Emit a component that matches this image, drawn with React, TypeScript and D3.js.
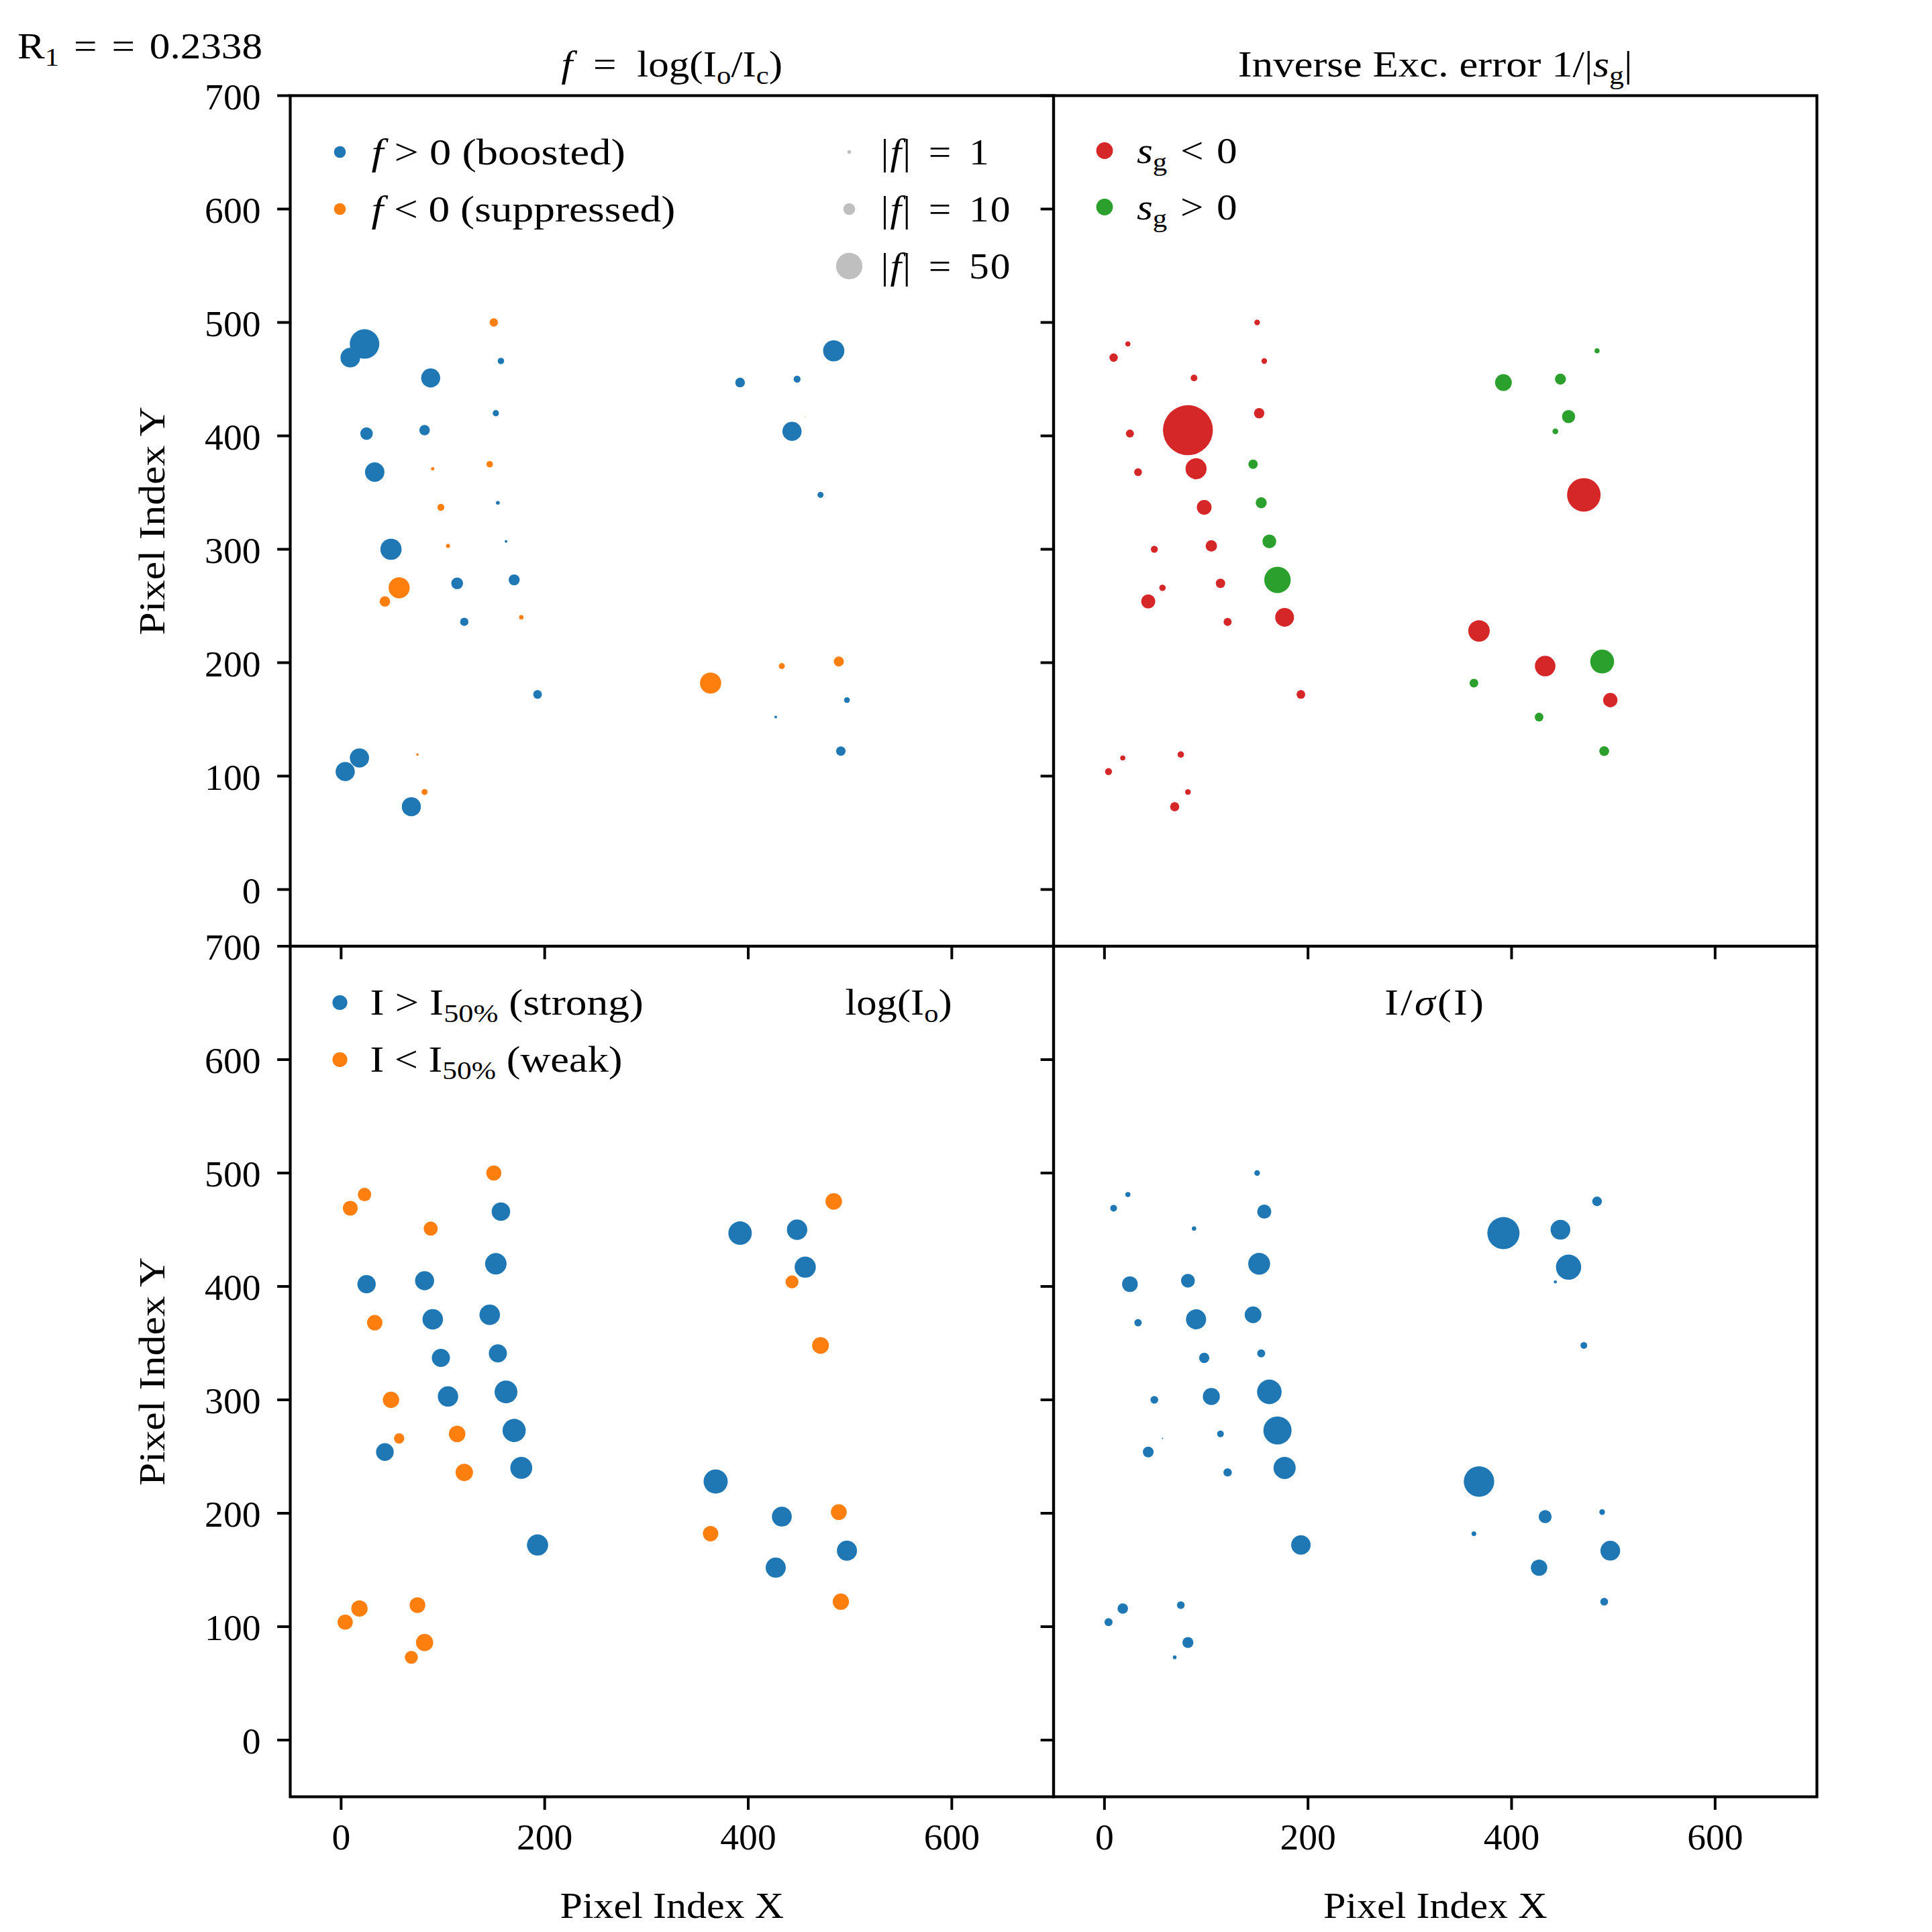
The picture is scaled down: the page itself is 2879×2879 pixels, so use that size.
import React, { useEffect } from 'react';
import * as d3 from 'd3';

// Reflection positions on the detector (pixel indices)
const pixelX = [150, 23, 9, 88, 157, 152, 25, 82, 33, 90, 146, 98, 154, 49, 105, 162, 57, 43, 114, 170, 121, 177, 193, 18, 4, 75, 82, 69, 484, 392, 448, 456, 443, 471, 368, 433, 489, 363, 497, 427, 491];
const pixelY = [500, 481, 469, 451, 466, 420, 402, 405, 368, 371, 375, 337, 341, 300, 303, 307, 266, 254, 270, 273, 236, 240, 172, 116, 104, 119, 86, 73, 475, 447, 450, 417, 404, 348, 228, 197, 201, 182, 167, 152, 122];

// f = log(Io/Ic) per reflection
const fValues = [-4.98, 62.7, 28.0, 26.1, 2.99, 2.86, 11.2, 7.88, 27.2, -0.81, -2.99, -3.5, 1.02, 32.3, -1.17, 0.52, -31.9, -7.88, 10.0, 8.71, 4.98, -1.41, 5.47, 26.5, 26.5, -0.42, -2.62, 26.1, 32.3, 6.72, 3.5, -0.05, 26.5, 2.62, 0, -2.62, -7.29, -32.3, 2.4, 0.52, 6.35];
// signed inverse excitation error 1/s_g
const invExcErr = [-2.29, -1.87, -5.14, -3.24, -2.29, -7.68, -4.66, -179.3, -4.36, -31.9, 6.35, -15.7, 8.71, -3.5, -9.36, 13.7, -2.99, -14.3, -6.35, 50.3, -4.66, -25.4, -5.47, -1.87, -3.5, -2.99, -2.29, -5.99, 1.87, 20.2, 8.71, 12.4, 2.4, -81.0, -33.2, -30.3, 41.1, 5.47, -14.8, 5.47, 6.91];
// observed intensity, natural log
const logIo = [4.06, 3.24, 3.92, 3.57, 6.17, 8.29, 6.08, 6.53, 4.28, 7.58, 7.58, 5.9, 5.9, 4.82, 7.48, 9.36, 1.92, 5.64, 4.9, 9.7, 5.47, 8.61, 8.09, 4.82, 4.14, 4.43, 5.31, 3.05, 4.9, 9.92, 7.48, 8.09, 3.05, 5.06, 10.5, 7.1, 4.51, 4.28, 7.29, 7.29, 4.82];
// signal to noise I/sigma(I)
const iOverSigma = [2.29, 1.87, 3.24, 1.41, 14.3, 34.4, 17.7, 13.7, 3.92, 29.2, 20.2, 7.68, 4.66, 4.36, 20.9, 43.4, 0.13, 8.29, 3.24, 57.1, 4.98, 35.3, 27.2, 7.88, 4.66, 4.21, 8.71, 1.02, 6.72, 74.6, 28.0, 45.8, 0.69, 3.24, 66.8, 12.2, 2.29, 1.59, 28.0, 19.3, 4.36];

const xTicks = [0, 200, 400, 600];
const yTicks = [0, 100, 200, 300, 400, 500, 600, 700];
const sizeLegendValues = [1, 10, 50];
const r1Value = '0.2338';

const FONT = '"Liberation Serif", "Times New Roman", serif';
const FS = 55.6;
const PX_PER_PT = 400 / 72;
const C = { blue: '#1f77b4', orange: '#ff7f0e', green: '#2ca02c', red: '#d62728', grey: '#bfbfbf' };

const SIZE = 2879;
const panelW = 1137.5;
const panelH = 1267.5;
const colX = [432.5, 1570];
const rowY = [142.5, 1410];
const SPINE = 4.2;
const TICK_LEN = 19.4;

// marker area (pt^2) -> radius in px
const radius = (s: number) => (Math.sqrt(Math.max(s, 0)) / 2) * PX_PER_PT;

type Seg = { t: string; it?: boolean; sub?: boolean };

// Text with italic / subscript runs; sx widens the glyph run horizontally
function Rich({
  x, y, segs, anchor = 'start', fs = FS, sx = 1, ws = 0, ls = 0, rotate = 0,
}: { x: number; y: number; segs: Seg[]; anchor?: string; fs?: number; sx?: number; ws?: number; ls?: number; rotate?: number }) {
  const shift = fs * 0.2;
  let cur = 0;
  const spans = segs.map((s, k) => {
    const target = s.sub ? shift : 0;
    const dy = target - cur;
    cur = target;
    return (
      <tspan key={k} dy={dy !== 0 ? dy : undefined} fontStyle={s.it ? 'italic' : 'normal'} fontSize={s.sub ? fs * 0.7 : fs}>
        {s.t}
      </tspan>
    );
  });
  return (
    <text
      x={0}
      y={0}
      textAnchor={anchor as any}
      fontFamily={FONT}
      fontSize={fs}
      fill="#000"
      wordSpacing={ws || undefined}
      letterSpacing={ls || undefined}
      style={{ whiteSpace: 'pre' }}
      transform={`translate(${x},${y}) rotate(${rotate}) scale(${sx},1)`}
    >
      {spans}
    </text>
  );
}

type Pt = { x: number; y: number; s: number; color: string };

function Panel({ col, row, points, xLabels, yLabels }: { col: number; row: number; points: Pt[]; xLabels: boolean; yLabels: boolean }) {
  const x0 = colX[col];
  const y0 = rowY[row];
  const xs = d3.scaleLinear().domain([-50, 700]).range([x0, x0 + panelW]);
  const ys = d3.scaleLinear().domain([-50, 700]).range([y0 + panelH, y0]);
  return (
    <g>
      {points.map((p, i) =>
        p.s > 0 ? <circle key={i} cx={xs(p.x)} cy={ys(p.y)} r={radius(p.s)} fill={p.color} /> : null
      )}
      {xTicks.map((t) => (
        <g key={'x' + t}>
          <line x1={xs(t)} x2={xs(t)} y1={y0 + panelH} y2={y0 + panelH + TICK_LEN} stroke="#000" strokeWidth={4} />
          {xLabels && (
            <text x={xs(t)} y={y0 + panelH + 78} textAnchor="middle" fontFamily={FONT} fontSize={FS}>
              {t}
            </text>
          )}
        </g>
      ))}
      {yTicks.map((t) => (
        <g key={'y' + t}>
          <line x1={x0 - TICK_LEN} x2={x0} y1={ys(t)} y2={ys(t)} stroke="#000" strokeWidth={4} />
          {yLabels && (
            <text x={x0 - 44} y={ys(t) + 20} textAnchor="end" fontFamily={FONT} fontSize={FS}>
              {t}
            </text>
          )}
        </g>
      ))}
      <rect x={x0} y={y0} width={panelW} height={panelH} fill="none" stroke="#000" strokeWidth={SPINE} />
    </g>
  );
}

export default function App() {
  useEffect(() => {
    document.body.style.margin = '0';
  }, []);

  const idx = d3.range(pixelX.length);
  const medianLogIo = d3.median(logIo) as number;

  const fPts: Pt[] = idx.map((i) => ({ x: pixelX[i], y: pixelY[i], s: Math.abs(fValues[i]), color: fValues[i] >= 0 ? C.blue : C.orange }));
  const sgPts: Pt[] = idx.map((i) => ({ x: pixelX[i], y: pixelY[i], s: Math.abs(invExcErr[i]), color: invExcErr[i] < 0 ? C.red : C.green }));
  const ioPts: Pt[] = idx.map((i) => ({ x: pixelX[i], y: pixelY[i], s: 4 * logIo[i], color: logIo[i] >= medianLogIo ? C.blue : C.orange }));
  const snPts: Pt[] = idx.map((i) => ({ x: pixelX[i], y: pixelY[i], s: iOverSigma[i], color: C.blue }));

  const legRow = (row: number, k: number) => rowY[row] + 84 + k * 85;
  const TXT_DY = 18;

  return (
    <svg width={SIZE} height={SIZE} viewBox={`0 0 ${SIZE} ${SIZE}`} style={{ position: 'absolute', left: 0, top: 0, background: '#fff' }}>
      <rect x={0} y={0} width={SIZE} height={SIZE} fill="#fff" />

      <Rich x={26} y={87} sx={1.1} ws={6} segs={[{ t: 'R' }, { t: '1', sub: true }, { t: ' = = ' + r1Value }]} />

      {/* titles */}
      <Rich x={colX[0] + panelW / 2} y={114} anchor="middle" sx={1.1} ws={14} segs={[{ t: 'f', it: true }, { t: ' = log(I' }, { t: 'o', sub: true }, { t: '/I' }, { t: 'c', sub: true }, { t: ')' }]} />
      <Rich x={colX[1] + panelW / 2} y={114} anchor="middle" sx={1.13} segs={[{ t: 'Inverse Exc. error 1/|' }, { t: 's', it: true }, { t: 'g', sub: true }, { t: '|' }]} />

      <Panel col={0} row={0} points={fPts} xLabels={false} yLabels={true} />
      <Panel col={1} row={0} points={sgPts} xLabels={false} yLabels={false} />
      <Panel col={0} row={1} points={ioPts} xLabels={true} yLabels={true} />
      <Panel col={1} row={1} points={snPts} xLabels={true} yLabels={false} />

      {/* f panel legends */}
      <circle cx={colX[0] + 74} cy={legRow(0, 0)} r={radius(10)} fill={C.blue} />
      <Rich x={colX[0] + 121} y={legRow(0, 0) + TXT_DY} sx={1.16} segs={[{ t: 'f', it: true }, { t: ' > 0 (boosted)' }]} />
      <circle cx={colX[0] + 74} cy={legRow(0, 1)} r={radius(10)} fill={C.orange} />
      <Rich x={colX[0] + 121} y={legRow(0, 1) + TXT_DY} sx={1.14} segs={[{ t: 'f', it: true }, { t: ' < 0 (suppressed)' }]} />
      {sizeLegendValues.map((v, k) => (
        <g key={v}>
          <circle cx={colX[0] + 833} cy={legRow(0, k)} r={radius(v)} fill={C.grey} />
          <Rich x={colX[0] + 880} y={legRow(0, k) + TXT_DY} sx={1.07} ws={7} ls={2} segs={[{ t: '|' }, { t: 'f', it: true }, { t: '| = ' + v }]} />
        </g>
      ))}

      {/* s_g legend */}
      <circle cx={colX[1] + 76} cy={legRow(0, 0) - 2} r={radius(20)} fill={C.red} />
      <Rich x={colX[1] + 124} y={legRow(0, 0) + TXT_DY - 2} sx={1.1} ws={4} segs={[{ t: 's', it: true }, { t: 'g', sub: true }, { t: ' < 0' }]} />
      <circle cx={colX[1] + 76} cy={legRow(0, 1) - 3} r={radius(20)} fill={C.green} />
      <Rich x={colX[1] + 124} y={legRow(0, 1) + TXT_DY - 3} sx={1.1} ws={4} segs={[{ t: 's', it: true }, { t: 'g', sub: true }, { t: ' > 0' }]} />

      {/* intensity legend */}
      <circle cx={colX[0] + 74} cy={legRow(1, 0)} r={radius(16)} fill={C.blue} />
      <Rich x={colX[0] + 119} y={legRow(1, 0) + TXT_DY} sx={1.14} segs={[{ t: 'I > I' }, { t: '50%', sub: true }, { t: ' (strong)' }]} />
      <circle cx={colX[0] + 74} cy={legRow(1, 1)} r={radius(16)} fill={C.orange} />
      <Rich x={colX[0] + 119} y={legRow(1, 1) + TXT_DY} sx={1.12} segs={[{ t: 'I < I' }, { t: '50%', sub: true }, { t: ' (weak)' }]} />
      <Rich x={colX[0] + panelW * 0.797} y={legRow(1, 0) + TXT_DY} anchor="middle" sx={1.09} segs={[{ t: 'log(I' }, { t: 'o', sub: true }, { t: ')' }]} />

      <Rich x={colX[1] + panelW * 0.5} y={legRow(1, 0) + TXT_DY} anchor="middle" sx={1.12} ls={3} segs={[{ t: 'I/' }, { t: 'σ', it: true }, { t: '(I)' }]} />

      {/* axis labels */}
      {[0, 1].map((r) => (
        <Rich key={'yl' + r} x={245} y={rowY[r] + panelH / 2} anchor="middle" rotate={-90} sx={1.11} segs={[{ t: 'Pixel Index Y' }]} />
      ))}
      {[0, 1].map((c) => (
        <Rich key={'xl' + c} x={colX[c] + panelW / 2} y={2858} anchor="middle" sx={1.08} segs={[{ t: 'Pixel Index X' }]} />
      ))}
    </svg>
  );
}
